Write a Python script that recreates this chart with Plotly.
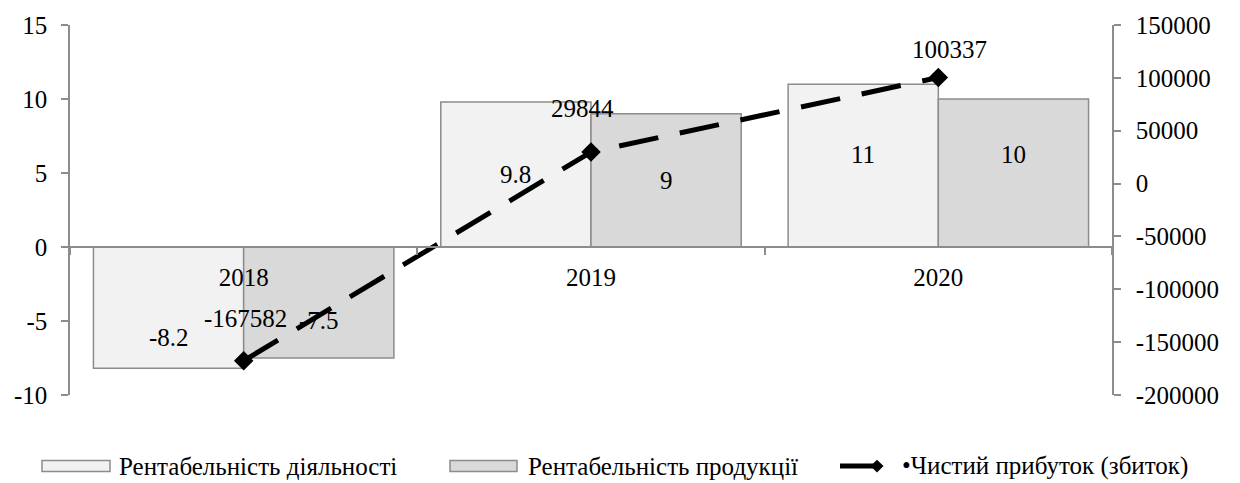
import plotly.graph_objects as go

# ---- data -------------------------------------------------------------
years = ["2018", "2019", "2020"]
activity_profitability = [-8.2, 9.8, 11]      # Рентабельність діяльності, %
product_profitability = [-7.5, 9, 10]         # Рентабельність продукції, %
net_profit = [-167582, 29844, 100337]         # Чистий прибуток (збиток)

series_names = [
    "Рентабельність діяльності",
    "Рентабельність продукції",
    "Чистий прибуток (збиток)",
]

left_ticks = [-10, -5, 0, 5, 10, 15]
right_ticks = [-200000, -150000, -100000, -50000, 0, 50000, 100000, 150000]

# ---- style --------------------------------------------------------------
W, H = 1240, 483
M_L, M_R, M_T, M_B = 70, 128, 20, 88
FONT = "Liberation Serif"
FS = 25
AXIS_GRAY = "#8C8C8C"
LIGHT = "#F2F2F2"
DARK = "#D9D9D9"
BARGAP = 0.135

left_range = [left_ticks[0], left_ticks[-1]]
right_range = [right_ticks[0], right_ticks[-1]]

fig = go.Figure()

fig.add_bar(
    x=years, y=activity_profitability, name=series_names[0],
    marker=dict(color=LIGHT, line=dict(color=AXIS_GRAY, width=1.5)),
)
fig.add_bar(
    x=years, y=product_profitability, name=series_names[1],
    marker=dict(color=DARK, line=dict(color=AXIS_GRAY, width=1.5)),
)
fig.add_scatter(
    x=years, y=net_profit, name=series_names[2], yaxis="y2",
    mode="lines+markers",
    line=dict(color="black", width=5, dash="40px,22px"),
    marker=dict(symbol="diamond", size=15, color="black"),
)

# the category axis sits on the zero level of the left axis
zero_pos = (0 - left_range[0]) / (left_range[1] - left_range[0])

axis_common = dict(
    showline=True, linecolor=AXIS_GRAY, linewidth=1.5,
    ticks="outside", ticklen=7, tickcolor=AXIS_GRAY, tickwidth=1.5,
    showgrid=False, zeroline=False,
    tickfont=dict(family=FONT, size=FS, color="black"),
)

fig.update_layout(
    width=W, height=H,
    margin=dict(l=M_L, r=M_R, t=M_T, b=M_B, pad=0),
    paper_bgcolor="white", plot_bgcolor="white",
    barmode="group", bargap=BARGAP, bargroupgap=0,
    showlegend=False,
    font=dict(family=FONT, size=FS, color="black"),
    xaxis=dict(
        axis_common, type="category", range=[-0.5, len(years) - 0.5],
        anchor="free", position=zero_pos, tickson="boundaries",
        ticklabelstandoff=8,
    ),
    yaxis=dict(
        axis_common, range=left_range, tickvals=left_ticks,
        ticktext=[str(v) for v in left_ticks], ticklabelstandoff=9,
    ),
    yaxis2=dict(
        axis_common, range=right_range, tickvals=right_ticks,
        ticktext=[str(v) for v in right_ticks], overlaying="y",
        side="right", ticklabelstandoff=10,
    ),
)

# ---- value labels -----------------------------------------------------------
half_bar = (1 - BARGAP) / 4  # offset of each bar centre from the category centre
bar_label_shift = {  # vertical nudges of the bar labels, px
    0: [-30, 0, 11],
    1: [-18, 0, 19],
}
for s, (vals, dx) in enumerate([(activity_profitability, -half_bar),
                                 (product_profitability, half_bar)]):
    for i, v in enumerate(vals):
        fig.add_annotation(
            x=i + dx, y=v / 2, xref="x", yref="y", text=f"{v:g}",
            showarrow=False, yshift=bar_label_shift[s][i],
            font=dict(family=FONT, size=FS, color="black"),
        )

line_label_shift = [(2, 42), (-9, 44), (11, 28)]
for i, v in enumerate(net_profit):
    fig.add_annotation(
        x=i, y=v, xref="x", yref="y2", text=str(v), showarrow=False,
        xshift=line_label_shift[i][0], yshift=line_label_shift[i][1],
        font=dict(family=FONT, size=FS, color="black"),
    )

# ---- legend -------------------------------------------------------------
plot_w = W - M_L - M_R
plot_h = H - M_T - M_B


def px_x(px):
    return (px - M_L) / plot_w


def px_y(py):
    return (H - M_B - py) / plot_h


LEG_Y = 467
for (x0, x1), color in [((42, 110), LIGHT), ((450, 517), DARK)]:
    fig.add_shape(
        type="rect", xref="paper", yref="paper",
        x0=px_x(x0), x1=px_x(x1), y0=px_y(LEG_Y + 5.5), y1=px_y(LEG_Y - 5.5),
        fillcolor=color, line=dict(color=AXIS_GRAY, width=1.5),
    )

fig.add_shape(
    type="line", xref="paper", yref="paper",
    x0=px_x(840), x1=px_x(877), y0=px_y(LEG_Y), y1=px_y(LEG_Y),
    line=dict(color="black", width=5),
)
dcx, d = 877, 6.5
fig.add_shape(
    type="path", xref="paper", yref="paper",
    path=(f"M {px_x(dcx - d)} {px_y(LEG_Y)} L {px_x(dcx)} {px_y(LEG_Y - d)} "
          f"L {px_x(dcx + d)} {px_y(LEG_Y)} L {px_x(dcx)} {px_y(LEG_Y + d)} Z"),
    fillcolor="black", line=dict(color="black", width=0),
)

for x_left, label in [(117, series_names[0]), (526, series_names[1]),
                      (900, "\u2022" + series_names[2])]:
    fig.add_annotation(
        x=px_x(x_left), y=px_y(LEG_Y), xref="paper", yref="paper",
        xanchor="left", yanchor="middle", text=label, showarrow=False,
        font=dict(family=FONT, size=FS, color="black"),
    )

fig.write_html("out.html")
